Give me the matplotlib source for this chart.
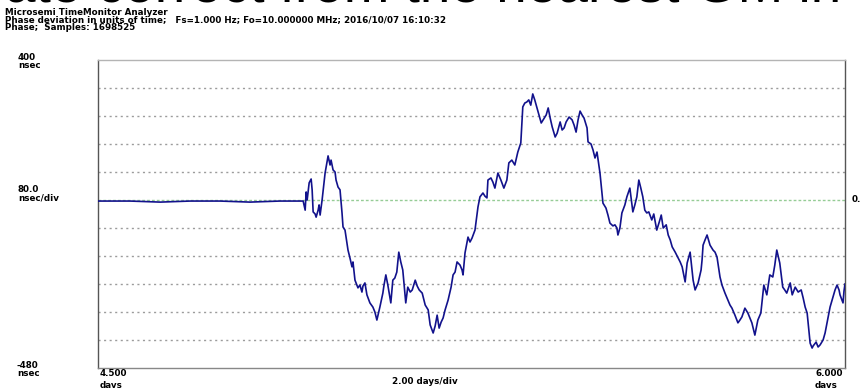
import matplotlib.pyplot as plt

# phase record: time in days, phase deviation in nsec
days = [4.500, 4.564, 4.625, 4.685, 4.745, 4.805, 4.865, 4.912,
        4.916, 4.918, 4.920, 4.924, 4.928, 4.930, 4.932, 4.936, 4.938, 4.942, 4.944, 4.946,
        4.950, 4.956, 4.960, 4.962, 4.966, 4.968, 4.972, 4.976, 4.978, 4.982, 4.986, 4.990,
        4.992, 4.996, 5.002, 5.006, 5.010, 5.012, 5.016, 5.022, 5.026, 5.030, 5.032, 5.036,
        5.040, 5.046, 5.052, 5.056, 5.060, 5.062, 5.066, 5.072, 5.074, 5.078, 5.082, 5.088,
        5.092, 5.096, 5.100, 5.104, 5.108, 5.112, 5.118, 5.122, 5.127, 5.131, 5.137, 5.141,
        5.145, 5.151, 5.157, 5.163, 5.167, 5.173, 5.177, 5.181, 5.185, 5.189, 5.193, 5.197,
        5.203, 5.209, 5.213, 5.217, 5.221, 5.227, 5.231, 5.233, 5.237, 5.243, 5.247, 5.251,
        5.257, 5.263, 5.267, 5.273, 5.277, 5.281, 5.283, 5.289, 5.293, 5.297, 5.303, 5.309,
        5.315, 5.321, 5.325, 5.331, 5.337, 5.343, 5.349, 5.353, 5.357, 5.361, 5.365, 5.369,
        5.373, 5.377, 5.384, 5.390, 5.396, 5.400, 5.404, 5.408, 5.412, 5.418, 5.422, 5.428,
        5.432, 5.436, 5.440, 5.446, 5.452, 5.456, 5.460, 5.464, 5.468, 5.472, 5.476, 5.482,
        5.484, 5.490, 5.494, 5.498, 5.502, 5.508, 5.514, 5.520, 5.524, 5.528, 5.534, 5.538,
        5.542, 5.544, 5.548, 5.552, 5.558, 5.562, 5.568, 5.574, 5.578, 5.582, 5.586, 5.590,
        5.594, 5.598, 5.602, 5.606, 5.612, 5.616, 5.622, 5.627, 5.631, 5.635, 5.641, 5.645,
        5.649, 5.653, 5.659, 5.665, 5.669, 5.673, 5.679, 5.683, 5.689, 5.695, 5.699, 5.705,
        5.711, 5.713, 5.715, 5.719, 5.723, 5.729, 5.735, 5.739, 5.743, 5.749, 5.753, 5.759,
        5.765, 5.769, 5.773, 5.779, 5.785, 5.789, 5.793, 5.799, 5.805, 5.809, 5.813, 5.819,
        5.825, 5.831, 5.837, 5.843, 5.849, 5.855, 5.859, 5.863, 5.869, 5.875, 5.879, 5.883,
        5.890, 5.894, 5.900, 5.906, 5.912, 5.916, 5.920, 5.924, 5.930, 5.934, 5.936, 5.942,
        5.946, 5.950, 5.956, 5.960, 5.964, 5.970, 5.976, 5.980, 5.984, 5.988, 5.990, 5.996,
        5.998, 6.000]

phase_ns = [-3, -3, -6, -3, -3, -6, -3, -3,
            -29, 23, 0, 49, 60, 29, -34, -40, -49, -29, -14, -43,
            0, 77, 109, 126, 100, 114, 86, 80, 57, 37, 29, -37,
            -77, -86, -143, -166, -191, -177, -229, -251, -243, -263, -246, -237,
            -271, -294, -306, -320, -343, -331, -306, -266, -246, -214, -243, -294,
            -229, -223, -206, -149, -177, -200, -294, -249, -263, -257, -229, -246,
            -257, -266, -300, -314, -357, -380, -360, -329, -366, -349, -337, -314,
            -286, -249, -214, -206, -177, -186, -200, -214, -151, -106, -120, -109,
            -86, -20, 9, 20, 11, 6, 57, 63, 51, 34, 77, 57,
            34, 57, 106, 114, 100, 137, 163, 266, 277, 280, 286, 271,
            303, 286, 251, 220, 234, 243, 263, 234, 209, 180, 191, 223,
            200, 206, 223, 237, 229, 214, 194, 229, 254, 243, 234, 206,
            166, 160, 143, 120, 137, 77, -9, -23, -43, -66, -74, -71,
            -80, -100, -80, -37, -14, 9, 34, -34, -14, 9, 57, 34,
            9, -29, -37, -34, -57, -40, -86, -63, -43, -80, -71, -100,
            -114, -134, -149, -166, -177, -191, -234, -180, -149, -229, -257, -237,
            -200, -171, -129, -114, -100, -129, -143, -149, -163, -220, -243, -266,
            -286, -300, -309, -329, -351, -343, -334, -309, -323, -337, -351, -386,
            -343, -323, -243, -271, -214, -220, -186, -143, -180, -249, -257, -266,
            -237, -271, -249, -263, -257, -280, -306, -323, -409, -423, -417, -406,
            -420, -414, -400, -380, -351, -306, -277, -257, -243, -257, -271, -294,
            -260, -240]

y_top, y_bottom, y_div = 400, -480, 80
x_start, x_end = 4.5, 6.0

header = ["Microsemi TimeMonitor Analyzer",
          "Phase deviation in units of time;   Fs=1.000 Hz; Fo=10.000000 MHz; 2016/10/07 16:10:32",
          "Phase;  Samples: 1698525"]

W, H = 862, 388
fig = plt.figure(figsize=(W / 100, H / 100), dpi=100)
ax = fig.add_axes([98 / W, 1 - 368 / H, (845 - 98) / W, (368 - 60) / H])

small = dict(family=["DejaVu Sans"], fontsize=6.3, weight="bold", color="black")

# dotted division lines, zero line in green
for v in range(y_bottom + y_div, y_top, y_div):
    if v == 0:
        ax.axhline(v, color="#96cc96", lw=1.0, ls=(0, (2, 1.5)), zorder=1)
    else:
        ax.axhline(v, color="#9c9c9c", lw=1.0, ls=(0, (1.5, 2.5)), zorder=1)

ax.plot(days, phase_ns, color="#12128c", lw=1.2, zorder=3)

ax.set_xlim(x_start, x_end)
ax.set_ylim(y_bottom, y_top)
ax.set_xticks([])
ax.set_yticks([])
ax.spines["left"].set_color("#555555")
ax.spines["right"].set_color("#555555")
ax.spines["top"].set_color("#b4b4b4")
ax.spines["bottom"].set_color("#888888")
for s in ax.spines.values():
    s.set_linewidth(1.0)


def px(x, y, s, ha="left", **kw):
    fig.text(x / W, 1 - y / H, s, ha=ha, va="center", **{**small, **kw})


# large caption line cut off by the top edge
fig.text(5 / W, 1 - 2 / H, "ate correct from the nearest GM in", ha="left", va="baseline",
         family=["Liberation Sans", "DejaVu Sans"], fontsize=39.5, color="black")

for i, line in enumerate(header):
    px(5, 12.5 + 7.3 * i, line)

px(18, 57, f"{y_top}")
px(18, 65, "nsec")
px(18, 190, f"{y_div:.1f}")
px(18, 198, "nsec/div")
px(17, 366, f"{y_bottom}")
px(17, 374, "nsec")
px(100, 374, f"{x_start:.3f}")
px(100, 385, "days")
px(425, 382, "2.00 days/div", ha="center")
px(843, 374, f"{x_end:.3f}", ha="right")
px(838, 386, "days", ha="right")
px(852, 200, "0.")

fig.savefig("out.png", dpi=100)
